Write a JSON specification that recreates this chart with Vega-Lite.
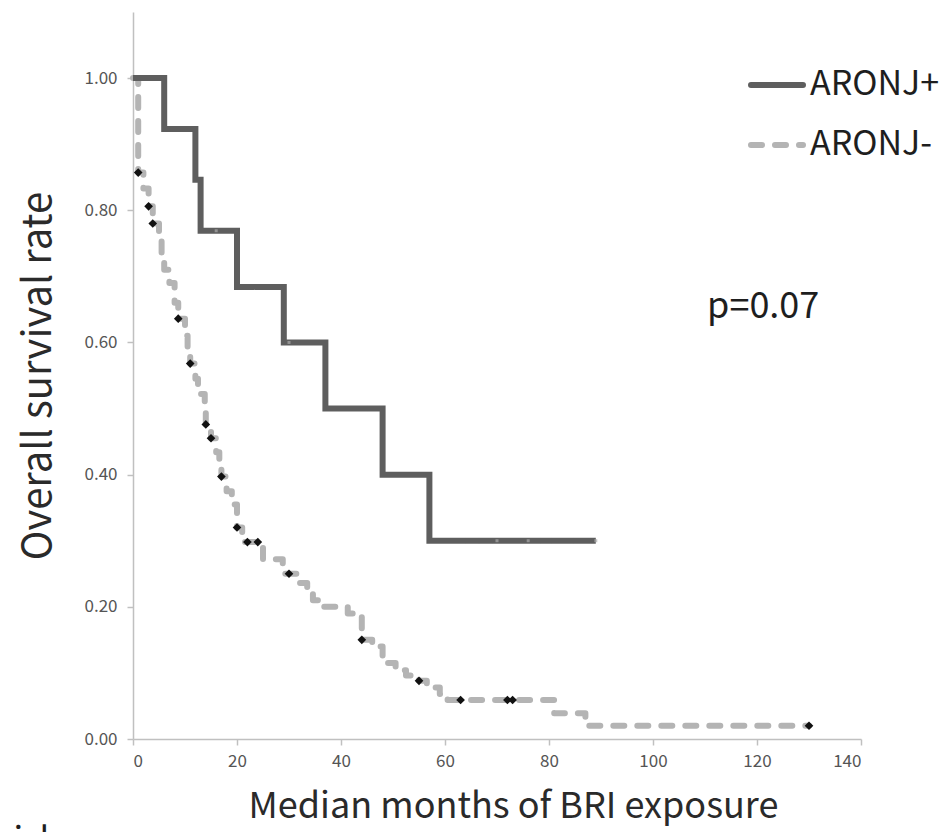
{
  "$schema": "https://vega.github.io/schema/vega-lite/v6.json",
  "width": 728,
  "height": 727,
  "autosize": {"type": "none"},
  "padding": {"left": 133, "top": 12, "right": 81, "bottom": 93},
  "background": "white",
  "config": {
    "view": {"stroke": null},
    "font": "Noto Sans CJK JP",
    "axis": {
      "grid": false,
      "domainColor": "#c0c0c0",
      "domainWidth": 1.5,
      "tickColor": "#c0c0c0",
      "tickWidth": 1.5,
      "tickSize": 6,
      "labelColor": "#555555",
      "labelFontSize": 17,
      "labelFont": "Noto Sans CJK JP",
      "titleFont": "Noto Sans CJK JP",
      "titleFontWeight": "normal",
      "titleColor": "#2a2a2a",
      "titleFontSize": 36
    }
  },
  "datasets": {
    "curves": [
      {"group": "ARONJ+", "t": 0, "s": 1.0},
      {"group": "ARONJ+", "t": 6, "s": 0.923},
      {"group": "ARONJ+", "t": 12, "s": 0.846},
      {"group": "ARONJ+", "t": 13, "s": 0.769},
      {"group": "ARONJ+", "t": 20, "s": 0.684},
      {"group": "ARONJ+", "t": 29, "s": 0.6},
      {"group": "ARONJ+", "t": 37, "s": 0.5},
      {"group": "ARONJ+", "t": 48, "s": 0.4},
      {"group": "ARONJ+", "t": 57, "s": 0.3},
      {"group": "ARONJ+", "t": 89, "s": 0.3},
      {"group": "ARONJ-", "t": 0, "s": 1.0},
      {"group": "ARONJ-", "t": 1, "s": 0.857},
      {"group": "ARONJ-", "t": 2, "s": 0.833},
      {"group": "ARONJ-", "t": 3, "s": 0.806},
      {"group": "ARONJ-", "t": 3.8, "s": 0.78},
      {"group": "ARONJ-", "t": 5, "s": 0.755},
      {"group": "ARONJ-", "t": 5.5, "s": 0.73},
      {"group": "ARONJ-", "t": 6, "s": 0.71},
      {"group": "ARONJ-", "t": 7, "s": 0.69},
      {"group": "ARONJ-", "t": 8, "s": 0.66},
      {"group": "ARONJ-", "t": 8.7, "s": 0.636},
      {"group": "ARONJ-", "t": 10, "s": 0.61},
      {"group": "ARONJ-", "t": 10.5, "s": 0.59},
      {"group": "ARONJ-", "t": 11, "s": 0.568},
      {"group": "ARONJ-", "t": 12, "s": 0.545},
      {"group": "ARONJ-", "t": 12.5, "s": 0.522},
      {"group": "ARONJ-", "t": 13.8, "s": 0.5},
      {"group": "ARONJ-", "t": 14, "s": 0.476},
      {"group": "ARONJ-", "t": 15, "s": 0.455},
      {"group": "ARONJ-", "t": 16, "s": 0.434},
      {"group": "ARONJ-", "t": 16.6, "s": 0.41},
      {"group": "ARONJ-", "t": 17, "s": 0.397},
      {"group": "ARONJ-", "t": 18, "s": 0.375},
      {"group": "ARONJ-", "t": 19, "s": 0.355},
      {"group": "ARONJ-", "t": 20, "s": 0.32},
      {"group": "ARONJ-", "t": 21, "s": 0.298},
      {"group": "ARONJ-", "t": 25, "s": 0.272},
      {"group": "ARONJ-", "t": 28.8, "s": 0.25},
      {"group": "ARONJ-", "t": 32, "s": 0.236},
      {"group": "ARONJ-", "t": 33.5, "s": 0.222},
      {"group": "ARONJ-", "t": 34.6, "s": 0.21},
      {"group": "ARONJ-", "t": 36, "s": 0.2},
      {"group": "ARONJ-", "t": 41.3, "s": 0.19},
      {"group": "ARONJ-", "t": 44, "s": 0.15},
      {"group": "ARONJ-", "t": 46, "s": 0.14},
      {"group": "ARONJ-", "t": 48, "s": 0.115},
      {"group": "ARONJ-", "t": 50.5, "s": 0.104},
      {"group": "ARONJ-", "t": 52.5, "s": 0.096},
      {"group": "ARONJ-", "t": 55, "s": 0.088},
      {"group": "ARONJ-", "t": 56.5, "s": 0.078},
      {"group": "ARONJ-", "t": 59, "s": 0.068},
      {"group": "ARONJ-", "t": 60.5, "s": 0.059},
      {"group": "ARONJ-", "t": 81, "s": 0.039},
      {"group": "ARONJ-", "t": 87, "s": 0.02},
      {"group": "ARONJ-", "t": 130, "s": 0.02}
    ],
    "censorNeg": [
      {"t": 1, "s": 0.857},
      {"t": 3, "s": 0.806},
      {"t": 3.8, "s": 0.78},
      {"t": 8.7, "s": 0.636},
      {"t": 11, "s": 0.568},
      {"t": 14, "s": 0.476},
      {"t": 15, "s": 0.455},
      {"t": 17, "s": 0.397},
      {"t": 20, "s": 0.32},
      {"t": 22, "s": 0.298},
      {"t": 24, "s": 0.298},
      {"t": 30, "s": 0.25},
      {"t": 44, "s": 0.15},
      {"t": 55, "s": 0.088},
      {"t": 63, "s": 0.059},
      {"t": 72, "s": 0.059},
      {"t": 73, "s": 0.059},
      {"t": 130, "s": 0.02}
    ],
    "censorPos": [
      {"t": 16, "s": 0.769},
      {"t": 30, "s": 0.6},
      {"t": 70, "s": 0.3},
      {"t": 76, "s": 0.3},
      {"t": 89, "s": 0.3}
    ],
    "notes": [
      {"label": "p=0.07", "t": 110.4, "s": 0.637, "size": 36},
      {"label": "risk", "t": -25.6, "s": -0.171, "size": 35}
    ]
  },
  "layer": [
    {
      "data": {"name": "curves"},
      "transform": [{"filter": "datum.group === 'ARONJ-'"}],
      "mark": {"type": "line", "interpolate": "step-after", "strokeWidth": 6, "strokeCap": "round", "strokeJoin": "round"},
      "encoding": {
        "x": {"field": "t", "type": "quantitative", "scale": {"domain": [0, 140], "nice": false},
          "axis": {"values": [0, 20, 40, 60, 80, 100, 120, 140], "title": "Median months of BRI exposure", "labelPadding": 8, "titlePadding": 20, "titleX": 380}},
        "y": {"field": "s", "type": "quantitative", "scale": {"domain": [0, 1.1], "nice": false},
          "axis": {"values": [0, 0.2, 0.4, 0.6, 0.8, 1.0], "format": ".2f", "title": "Overall survival rate", "titleFontSize": 40, "labelPadding": 10, "titlePadding": 25}},
        "order": {"field": "t", "type": "quantitative"},
        "color": {"field": "group", "type": "nominal", "scale": {"domain": ["ARONJ+", "ARONJ-"], "range": ["#5e5e5e", "#b4b4b4"]},
          "legend": {"title": null, "orient": "none", "legendX": 615, "legendY": 44, "padding": 0, "symbolType": "stroke", "symbolSize": 2704, "symbolStrokeWidth": 6, "labelFontSize": 34, "labelFont": "Noto Sans CJK JP", "labelColor": "#1e1e1e", "labelOffset": 4, "rowPadding": 14,
            "encode": {"symbols": {"update": {"strokeCap": {"value": "round"}}}}}},
        "strokeDash": {"field": "group", "type": "nominal", "scale": {"domain": ["ARONJ+", "ARONJ-"], "range": [[1, 0], [11, 13]]}, "legend": {"title": null, "orient": "none", "legendX": 615, "legendY": 44}}
      }
    },
    {
      "data": {"name": "curves"},
      "transform": [{"filter": "datum.group === 'ARONJ+'"}],
      "mark": {"type": "line", "interpolate": "step-after", "strokeWidth": 6, "strokeCap": "butt", "strokeJoin": "miter"},
      "encoding": {
        "x": {"field": "t", "type": "quantitative"},
        "y": {"field": "s", "type": "quantitative"},
        "order": {"field": "t", "type": "quantitative"},
        "color": {"field": "group", "type": "nominal"},
        "strokeDash": {"field": "group", "type": "nominal"}
      }
    },
    {
      "data": {"name": "censorPos"},
      "mark": {"type": "point", "shape": "M0,-1L0,1", "filled": false, "stroke": "#a8a8a8", "strokeWidth": 3, "size": 9},
      "encoding": {
        "x": {"field": "t", "type": "quantitative"},
        "y": {"field": "s", "type": "quantitative"}
      }
    },
    {
      "data": {"name": "censorNeg"},
      "mark": {"type": "point", "shape": "diamond", "filled": true, "fill": "#111111", "opacity": 1, "size": 75},
      "encoding": {
        "x": {"field": "t", "type": "quantitative"},
        "y": {"field": "s", "type": "quantitative"}
      }
    },
    {
      "data": {"name": "notes"},
      "mark": {"type": "text", "align": "left", "baseline": "alphabetic", "font": "Noto Sans CJK JP", "color": "#1e1e1e", "clip": false},
      "encoding": {
        "x": {"field": "t", "type": "quantitative"},
        "y": {"field": "s", "type": "quantitative"},
        "text": {"field": "label"},
        "size": {"field": "size", "type": "quantitative", "scale": null}
      }
    }
  ]
}
